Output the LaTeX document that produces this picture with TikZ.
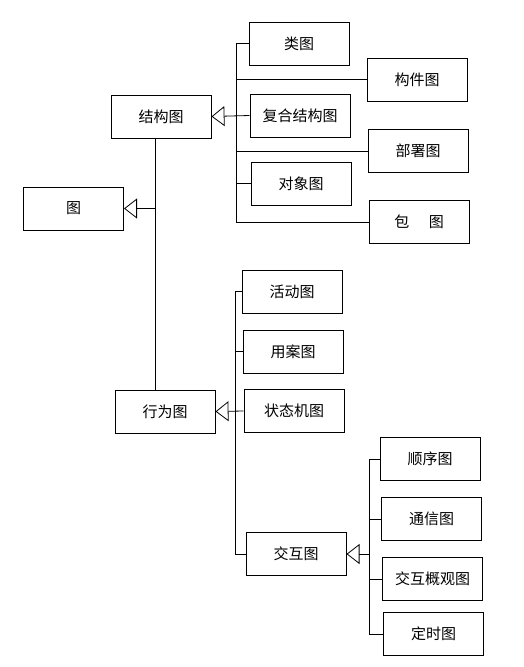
\documentclass[tikz,border=0pt]{standalone}
\usepackage{fontspec}
\newfontfamily\cjk{Noto Sans CJK SC}
\usetikzlibrary{arrows.meta}
\begin{document}
\begin{tikzpicture}[x=1pt,y=-1pt,
  box/.style={draw,line width=1pt,minimum width=100pt,minimum height=43pt,inner sep=0pt,font=\cjk\fontsize{15}{17}\selectfont},
  conn/.style={line width=0.8pt},
  gen/.style={conn,-{Triangle[open,length=13pt,width=20pt,line width=0.8pt]}}]
\useasboundingbox (0,0) rectangle (523,667);
% nodes
\node[box] (leitu) at (299,43.5) {类图};
\node[box] (goujian) at (417,79.5) {构件图};
\node[box] (fuhe) at (300,115.5) {复合结构图};
\node[box] (bushu) at (418,151) {部署图};
\node[box] (duixiang) at (301,183.5) {对象图};
\node[box] (bao) at (419,222) {包\hspace{1.3em}图};
\node[box] (jiegou) at (161,116.5) {结构图};
\node[box] (tu) at (73.5,208.5) {图};
\node[box] (huodong) at (292,291.5) {活动图};
\node[box] (yongan) at (293,351.5) {用案图};
\node[box] (zhuangtai) at (294,411) {状态机图};
\node[box] (xingwei) at (165,411.5) {行为图};
\node[box] (jiaohu) at (296,554) {交互图};
\node[box] (shunxu) at (430,459) {顺序图};
\node[box] (tongxin) at (431.5,519) {通信图};
\node[box] (gaiguan) at (432.5,579) {交互概观图};
\node[box] (dingshi) at (433.5,634) {定时图};
% bus coordinates
\coordinate (b1) at (236,0);
\coordinate (b2) at (235,0);
\coordinate (b3) at (369,0);
\coordinate (m) at (155,208.5);
% root
\draw[conn] (jiegou.south -| m) -- (xingwei.north -| m);
\draw[gen] (m) -- (tu.east);
% structure diagrams
\draw[conn] (leitu.west) -- (leitu.west -| b1) -- (bao.west -| b1) -- (bao.west);
\draw[conn] (goujian.west -| b1) -- (goujian.west);
\draw[conn] (bushu.west -| b1) -- (bushu.west);
\draw[conn] (duixiang.west -| b1) -- (duixiang.west);
\draw[gen] (fuhe.west) -- (jiegou.east);
% behaviour diagrams
\draw[conn] (huodong.west) -- (huodong.west -| b2) -- (jiaohu.west -| b2) -- (jiaohu.west);
\draw[conn] (yongan.west -| b2) -- (yongan.west);
\draw[gen] (zhuangtai.west) -- (xingwei.east);
% interaction diagrams
\draw[conn] (shunxu.west) -- (shunxu.west -| b3) -- (dingshi.west -| b3) -- (dingshi.west);
\draw[conn] (tongxin.west -| b3) -- (tongxin.west);
\draw[conn] (gaiguan.west -| b3) -- (gaiguan.west);
\draw[gen] (jiaohu.east -| b3) -- (jiaohu.east);
\end{tikzpicture}
\end{document}
